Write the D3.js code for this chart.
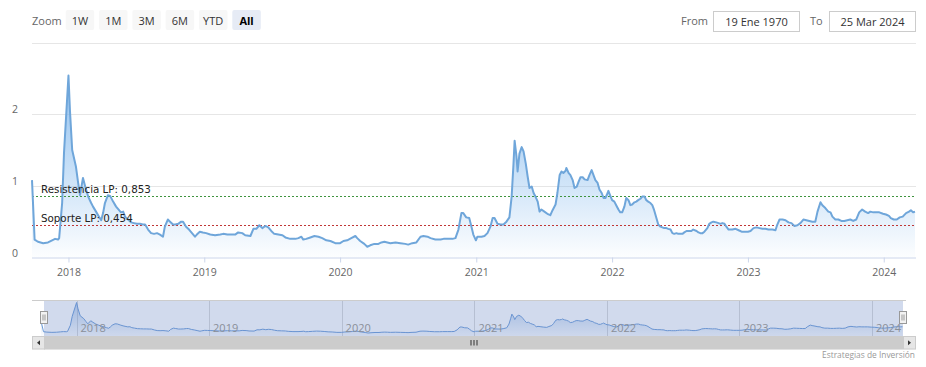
<!DOCTYPE html>
<html>
<head>
<meta charset="utf-8">
<script src="https://cdn.jsdelivr.net/npm/d3@7"></script>
<style>
  html, body { margin: 0; padding: 0; background: #fff; }
  svg { display: block; }
</style>
</head>
<body>
<svg id="chart" width="926" height="367"></svg>
<script>
// ---------------- DATA ----------------
const d2017 = ["2017-09-25","2017-10-02","2017-10-11","2017-10-25","2017-11-07","2017-11-18","2017-11-26","2017-12-04","2017-12-07","2017-12-15","2017-12-20"];
const v2017 = [1.08,0.25,0.22,0.20,0.21,0.24,0.26,0.25,0.27,0.76,1.46];

const d2018 = ["2018-01-01","2018-01-05","2018-01-11","2018-01-21","2018-01-27","2018-02-01","2018-02-09","2018-02-15","2018-02-23","2018-03-03","2018-03-08","2018-03-16","2018-03-24","2018-03-30","2018-04-04","2018-04-09","2018-04-17","2018-04-23","2018-05-01","2018-05-09","2018-05-17","2018-05-22","2018-05-28","2018-06-02","2018-06-10","2018-06-18","2018-06-26","2018-07-04","2018-07-12","2018-07-20","2018-07-26","2018-08-03","2018-08-11","2018-08-19","2018-08-27","2018-09-04","2018-09-12","2018-09-17","2018-09-25","2018-10-01","2018-10-09","2018-10-15","2018-10-23","2018-10-31","2018-11-05","2018-11-13","2018-11-21","2018-11-29","2018-12-07","2018-12-12","2018-12-20","2018-12-28"];
const v2018 = [2.54,2.05,1.50,1.27,1.04,0.87,1.11,0.99,0.85,0.76,0.71,0.64,0.57,0.52,0.62,0.76,0.87,0.86,0.78,0.71,0.66,0.63,0.64,0.57,0.53,0.49,0.48,0.47,0.47,0.46,0.46,0.39,0.34,0.33,0.34,0.32,0.29,0.43,0.53,0.50,0.46,0.46,0.47,0.50,0.50,0.43,0.39,0.34,0.29,0.32,0.36,0.35];

const d2019 = ["2019-01-06","2019-01-17","2019-01-30","2019-02-13","2019-02-21","2019-03-04","2019-03-17","2019-03-25","2019-04-02","2019-04-13","2019-04-21","2019-05-05","2019-05-13","2019-05-21","2019-05-29","2019-06-06","2019-06-14","2019-06-22","2019-06-30","2019-07-08","2019-07-19","2019-07-30","2019-08-07","2019-08-20","2019-09-03","2019-09-11","2019-09-19","2019-09-24","2019-10-02","2019-10-13","2019-10-24","2019-11-04","2019-11-14","2019-11-25","2019-12-06","2019-12-19"];
const v2019 = [0.34,0.32,0.31,0.32,0.33,0.32,0.32,0.32,0.35,0.34,0.31,0.30,0.40,0.40,0.45,0.41,0.44,0.42,0.37,0.33,0.32,0.31,0.28,0.26,0.26,0.27,0.29,0.25,0.26,0.28,0.30,0.29,0.27,0.24,0.23,0.20];

const d2020 = ["2020-01-01","2020-01-10","2020-01-20","2020-01-31","2020-02-11","2020-02-16","2020-02-24","2020-03-06","2020-03-14","2020-03-22","2020-04-02","2020-04-13","2020-04-21","2020-04-29","2020-05-07","2020-05-15","2020-05-29","2020-06-11","2020-06-24","2020-07-02","2020-07-13","2020-07-24","2020-08-04","2020-08-12","2020-08-23","2020-08-31","2020-09-13","2020-09-27","2020-10-05","2020-10-18","2020-10-29","2020-11-06","2020-11-14","2020-11-22","2020-11-27","2020-12-05","2020-12-13","2020-12-19","2020-12-24","2020-12-31"];
const v2020 = [0.20,0.23,0.24,0.27,0.30,0.27,0.23,0.19,0.15,0.17,0.19,0.19,0.21,0.22,0.21,0.20,0.21,0.20,0.19,0.18,0.20,0.21,0.29,0.30,0.29,0.27,0.25,0.25,0.26,0.26,0.26,0.27,0.39,0.62,0.62,0.56,0.55,0.43,0.32,0.24];

const d2021 = ["2021-01-04","2021-01-15","2021-01-23","2021-01-31","2021-02-08","2021-02-14","2021-02-19","2021-02-27","2021-03-07","2021-03-15","2021-03-23","2021-03-31","2021-04-06","2021-04-11","2021-04-14","2021-04-19","2021-04-22","2021-04-27","2021-05-03","2021-05-08","2021-05-14","2021-05-19","2021-05-24","2021-05-30","2021-06-04","2021-06-09","2021-06-15","2021-06-20","2021-06-25","2021-07-03","2021-07-11","2021-07-19","2021-07-25","2021-08-02","2021-08-07","2021-08-13","2021-08-18","2021-08-23","2021-08-29","2021-08-31","2021-09-06","2021-09-11","2021-09-17","2021-09-22","2021-09-28","2021-10-03","2021-10-08","2021-10-14","2021-10-19","2021-10-27","2021-11-01","2021-11-07","2021-11-12","2021-11-17","2021-11-23","2021-11-28","2021-12-04","2021-12-09","2021-12-14","2021-12-20","2021-12-22","2021-12-28"];
const v2021 = [0.29,0.29,0.30,0.34,0.43,0.55,0.55,0.47,0.46,0.46,0.50,0.56,0.85,1.31,1.63,1.41,1.20,1.45,1.54,1.48,1.31,1.13,0.97,0.99,0.90,0.85,0.78,0.64,0.67,0.64,0.61,0.59,0.66,0.74,0.90,1.15,1.20,1.18,1.21,1.25,1.18,1.15,1.08,0.97,0.99,1.06,1.12,1.12,1.09,1.08,1.15,1.22,1.15,1.08,1.04,0.95,0.90,0.83,0.83,0.90,0.93,0.85];

const d2022 = ["2022-01-01","2022-01-07","2022-01-12","2022-01-18","2022-01-23","2022-01-28","2022-02-03","2022-02-08","2022-02-14","2022-02-19","2022-02-24","2022-03-02","2022-03-07","2022-03-12","2022-03-18","2022-03-23","2022-03-29","2022-04-03","2022-04-08","2022-04-14","2022-04-19","2022-04-24","2022-04-30","2022-05-05","2022-05-11","2022-05-16","2022-05-21","2022-05-27","2022-06-01","2022-06-07","2022-06-12","2022-06-17","2022-06-23","2022-06-28","2022-07-04","2022-07-09","2022-07-14","2022-07-20","2022-07-28","2022-08-02","2022-08-07","2022-08-16","2022-08-21","2022-08-26","2022-09-01","2022-09-06","2022-09-14","2022-09-19","2022-09-25","2022-09-30","2022-10-08","2022-10-14","2022-10-19","2022-10-24","2022-10-30","2022-11-04","2022-11-10","2022-11-15","2022-11-20","2022-11-29","2022-12-07","2022-12-15","2022-12-23"];
const v2022 = [0.80,0.78,0.73,0.67,0.63,0.63,0.71,0.83,0.80,0.73,0.74,0.77,0.78,0.80,0.82,0.85,0.85,0.80,0.78,0.76,0.73,0.66,0.55,0.46,0.43,0.42,0.41,0.41,0.40,0.39,0.34,0.33,0.34,0.33,0.33,0.33,0.35,0.37,0.37,0.37,0.39,0.37,0.35,0.34,0.34,0.36,0.41,0.47,0.49,0.50,0.49,0.48,0.47,0.48,0.47,0.43,0.39,0.39,0.39,0.40,0.38,0.36,0.36];

const d2023 = ["2023-01-01","2023-01-08","2023-01-16","2023-01-24","2023-02-01","2023-02-09","2023-02-17","2023-02-25","2023-03-08","2023-03-16","2023-03-21","2023-03-27","2023-04-04","2023-04-12","2023-04-20","2023-04-28","2023-05-06","2023-05-14","2023-05-22","2023-05-30","2023-06-07","2023-06-15","2023-06-23","2023-07-01","2023-07-07","2023-07-15","2023-07-20","2023-07-28","2023-08-05","2023-08-11","2023-08-16","2023-08-24","2023-09-01","2023-09-09","2023-09-17","2023-09-25","2023-10-03","2023-10-11","2023-10-19","2023-10-27","2023-11-04","2023-11-12","2023-11-20","2023-11-26","2023-12-04","2023-12-12","2023-12-20","2023-12-30"];
const v2023 = [0.36,0.37,0.41,0.42,0.41,0.40,0.40,0.39,0.39,0.38,0.46,0.53,0.53,0.52,0.49,0.48,0.44,0.45,0.48,0.53,0.52,0.51,0.50,0.50,0.64,0.77,0.73,0.69,0.64,0.63,0.57,0.53,0.53,0.51,0.51,0.52,0.53,0.51,0.53,0.63,0.67,0.64,0.62,0.64,0.63,0.63,0.63,0.61];

const d2024 = ["2024-01-07","2024-01-15","2024-01-20","2024-01-28","2024-02-05","2024-02-13","2024-02-21","2024-03-01","2024-03-09","2024-03-14","2024-03-20","2024-03-25"];
const v2024 = [0.60,0.58,0.55,0.53,0.53,0.56,0.57,0.62,0.64,0.66,0.63,0.64];

const yTickValues = [0, 1, 2, 3];
const yTickLabels = ["0", "1", "2", ""];
const resistencia = 0.853;
const soporte = 0.454;
const resistenciaLabel = "Resistencia LP: 0,853";
const soporteLabel = "Soporte LP: 0,454";
const zoomButtons = ["1W", "1M", "3M", "6M", "YTD", "All"];
const selectedButton = "All";
const fromLabel = "19 Ene 1970";
const toLabel = "25 Mar 2024";
const creditText = "Estrategias de Inversión";

// ---------------- BUILD ----------------
const parse = d3.timeParse("%Y-%m-%d");
const allDates = [].concat(d2017, d2018, d2019, d2020, d2021, d2022, d2023, d2024);
const allVals = [].concat(v2017, v2018, v2019, v2020, v2021, v2022, v2023, v2024);
if (allDates.length !== allVals.length) console.error("length mismatch", allDates.length, allVals.length);
const data = allDates.map((d, i) => ({ date: parse(d), value: allVals[i] }));

const svg = d3.select("#chart");
const UI = "'Open Sans', 'Noto Sans', sans-serif";

// ---- main plot geometry
const pL = 32, pR = 915, pT = 42.5, pB = 257.5;
const x = d3.scaleTime().domain(d3.extent(data, d => d.date)).range([pL, pR]);
const y = d3.scaleLinear().domain([0, 3]).range([pB, pT]);

const defs = svg.append("defs");
const grad = defs.append("linearGradient").attr("id", "areaGrad")
  .attr("x1", 0).attr("y1", 0).attr("x2", 0).attr("y2", 1);
grad.append("stop").attr("offset", "0%").attr("stop-color", "#7cb5ec").attr("stop-opacity", 0.85);
grad.append("stop").attr("offset", "100%").attr("stop-color", "#7cb5ec").attr("stop-opacity", 0.02);

const ngrad = defs.append("linearGradient").attr("id", "navGrad")
  .attr("x1", 0).attr("y1", 0).attr("x2", 0).attr("y2", 1);
ngrad.append("stop").attr("offset", "0%").attr("stop-color", "#6b9bd8").attr("stop-opacity", 0.8);
ngrad.append("stop").attr("offset", "100%").attr("stop-color", "#6b9bd8").attr("stop-opacity", 0.05);

// gridlines (horizontal)
svg.append("g").selectAll("line").data(yTickValues.filter(v => v > 0)).join("line")
  .attr("x1", pL).attr("x2", pR + 1)
  .attr("y1", d => Math.round(y(d)) + 0.5).attr("y2", d => Math.round(y(d)) + 0.5)
  .attr("stroke", "#e6e6e6").attr("stroke-width", 1);

// y labels
svg.append("g").selectAll("text").data(yTickValues).join("text")
  .attr("x", 18).attr("y", d => y(d) - 1)
  .attr("text-anchor", "end")
  .attr("font-family", UI).attr("font-size", "10.5px").attr("fill", "#666")
  .text((d, i) => yTickLabels[i]);

// area + line
const area = d3.area().x(d => x(d.date)).y0(y(0)).y1(d => y(d.value));
const line = d3.line().x(d => x(d.date)).y(d => y(d.value));
svg.append("path").datum(data).attr("d", area).attr("fill", "url(#areaGrad)");

// x axis
const xAxis = d3.axisBottom(x).ticks(d3.timeYear.every(1)).tickFormat(d3.timeFormat("%Y")).tickSize(5).tickPadding(6);
const gx = svg.append("g").attr("transform", `translate(0,${pB})`).call(xAxis);
gx.select(".domain").attr("stroke", "#ccd6eb").attr("d", `M${pL},0.5H${pR + 1}`);
gx.selectAll(".tick line").attr("stroke", "#ccd6eb").attr("y1", 0);
gx.selectAll(".tick text").attr("font-family", UI).attr("font-size", "10.5px").attr("fill", "#666");

// plot lines
const plotLines = [
  { v: resistencia, color: "#3f943f", label: resistenciaLabel },
  { v: soporte, color: "#c03636", label: soporteLabel }
];
plotLines.forEach(p => {
  const yy = Math.round(y(p.v)) + 0.5;
  svg.append("line").attr("x1", pL).attr("x2", pR + 1).attr("y1", yy).attr("y2", yy)
    .attr("stroke", p.color).attr("stroke-width", 1).attr("stroke-dasharray", "2,2");
});

svg.append("path").datum(data).attr("d", line).attr("fill", "none")
  .attr("stroke", "#6fa6da").attr("stroke-width", 2).attr("stroke-linejoin", "round");

plotLines.forEach(p => {
  const yy = Math.round(y(p.v)) + 0.5;
  svg.append("text").attr("x", 41).attr("y", yy - 3.5)
    .attr("font-family", "'DejaVu Sans', Verdana, sans-serif").attr("font-size", "10.3px")
    .attr("fill", "#222").text(p.label);
});

// ---- range selector
svg.append("text").attr("x", 32).attr("y", 24.5).attr("font-family", UI).attr("font-size", "11px")
  .attr("fill", "#666").text("Zoom");
const bx = d3.scalePoint().domain(zoomButtons).range([65.7, 232.3]);
const btn = svg.append("g").selectAll("g").data(zoomButtons).join("g")
  .attr("transform", d => `translate(${bx(d)},10)`);
btn.append("rect").attr("width", 28.5).attr("height", 20).attr("rx", 2)
  .attr("fill", d => d === selectedButton ? "#e6ebf5" : "#f7f7f7");
btn.append("text").attr("x", 14.25).attr("y", 14.5).attr("text-anchor", "middle")
  .attr("font-family", UI).attr("font-size", "11px")
  .attr("font-weight", d => d === selectedButton ? "bold" : "normal")
  .attr("fill", d => d === selectedButton ? "#000" : "#333").text(d => d);

// from / to
svg.append("text").attr("x", 681).attr("y", 25).attr("font-family", UI).attr("font-size", "11px").attr("fill", "#666").text("From");
svg.append("rect").attr("x", 713.5).attr("y", 11.5).attr("width", 86).attr("height", 20).attr("fill", "#fff").attr("stroke", "#cccccc");
svg.append("text").attr("x", 756.5).attr("y", 25.5).attr("text-anchor", "middle").attr("font-family", UI).attr("font-size", "11px").attr("fill", "#333").text(fromLabel);
svg.append("text").attr("x", 810).attr("y", 25).attr("font-family", UI).attr("font-size", "11px").attr("fill", "#666").text("To");
svg.append("rect").attr("x", 829.5).attr("y", 11.5).attr("width", 86).attr("height", 20).attr("fill", "#fff").attr("stroke", "#cccccc");
svg.append("text").attr("x", 872.5).attr("y", 25.5).attr("text-anchor", "middle").attr("font-family", UI).attr("font-size", "11px").attr("fill", "#333").text(toLabel);

// ---- navigator
const nT = 300, nB = 336, nL = 44, nR = 903;
const nx = d3.scaleTime().domain(d3.extent(data, d => d.date)).range([41, 902.5]);
const ny = d3.scaleLinear().domain(d3.extent(data, d => d.value)).range([333, 302.5]);

const years = nx.ticks(d3.timeYear.every(1));
svg.append("g").selectAll("line").data(years).join("line")
  .attr("x1", d => Math.round(nx(d)) + 0.5).attr("x2", d => Math.round(nx(d)) + 0.5)
  .attr("y1", nT).attr("y2", nB).attr("stroke", "#d8d8d8");

const narea = d3.area().x(d => nx(d.date)).y0(nB).y1(d => ny(d.value));
const nline = d3.line().x(d => nx(d.date)).y(d => ny(d.value));
svg.append("path").datum(data).attr("d", narea).attr("fill", "url(#navGrad)").attr("opacity", 0.6);
svg.append("path").datum(data).attr("d", nline).attr("fill", "none").attr("stroke", "#6b9bd8").attr("stroke-width", 1);

// mask (selected range = all)
svg.append("rect").attr("x", nL).attr("y", nT).attr("width", nR - nL).attr("height", nB - nT)
  .attr("fill", "rgba(102,133,194,0.3)");
svg.append("line").attr("x1", pL).attr("x2", 906).attr("y1", nT + 0.5).attr("y2", nT + 0.5).attr("stroke", "#cccccc");

svg.append("g").selectAll("text").data(years).join("text")
  .attr("x", d => nx(d) + 4).attr("y", 332)
  .attr("font-family", UI).attr("font-size", "11px").attr("fill", "#8a8f99")
  .text(d3.timeFormat("%Y"));

// handles
[nL, nR].forEach(hx => {
  const g = svg.append("g").attr("transform", `translate(${Math.round(hx) - 3.5},311.5)`);
  g.append("rect").attr("width", 7).attr("height", 12).attr("fill", "#f2f2f2").attr("stroke", "#999");
  g.append("line").attr("x1", 2.5).attr("x2", 2.5).attr("y1", 3).attr("y2", 9).attr("stroke", "#999");
  g.append("line").attr("x1", 4.5).attr("x2", 4.5).attr("y1", 3).attr("y2", 9).attr("stroke", "#999");
});

// scrollbar
const sT = 336, sH = 13.5;
svg.append("rect").attr("x", pL).attr("y", sT).attr("width", 916 - pL).attr("height", sH).attr("fill", "#f2f2f2");
svg.append("rect").attr("x", nL).attr("y", sT).attr("width", nR - nL).attr("height", sH).attr("fill", "#cccccc");
[[pL, -1], [nR, 1]].forEach(([bx0, dir]) => {
  svg.append("rect").attr("x", bx0 + 0.5).attr("y", sT + 0.5).attr("width", 12).attr("height", sH - 1)
    .attr("fill", "#e6e6e6").attr("stroke", "#cccccc");
  const cx = bx0 + 6.5, cy = sT + sH / 2;
  svg.append("path").attr("d", dir < 0 ? `M${cx + 1.5},${cy - 2.5}L${cx - 1.5},${cy}L${cx + 1.5},${cy + 2.5}Z`
                                        : `M${cx - 1.5},${cy - 2.5}L${cx + 1.5},${cy}L${cx - 1.5},${cy + 2.5}Z`)
    .attr("fill", "#333");
});
const gc = (nL + nR) / 2;
[-3, 0, 3].forEach(o => {
  svg.append("line").attr("x1", gc + o + 0.5).attr("x2", gc + o + 0.5).attr("y1", sT + 4).attr("y2", sT + 9.5)
    .attr("stroke", "#333").attr("stroke-width", 1);
});

// credits
svg.append("text").attr("x", 915).attr("y", 358).attr("text-anchor", "end")
  .attr("font-family", UI).attr("font-size", "8.4px").attr("fill", "#999").text(creditText);
</script>
</body>
</html>
